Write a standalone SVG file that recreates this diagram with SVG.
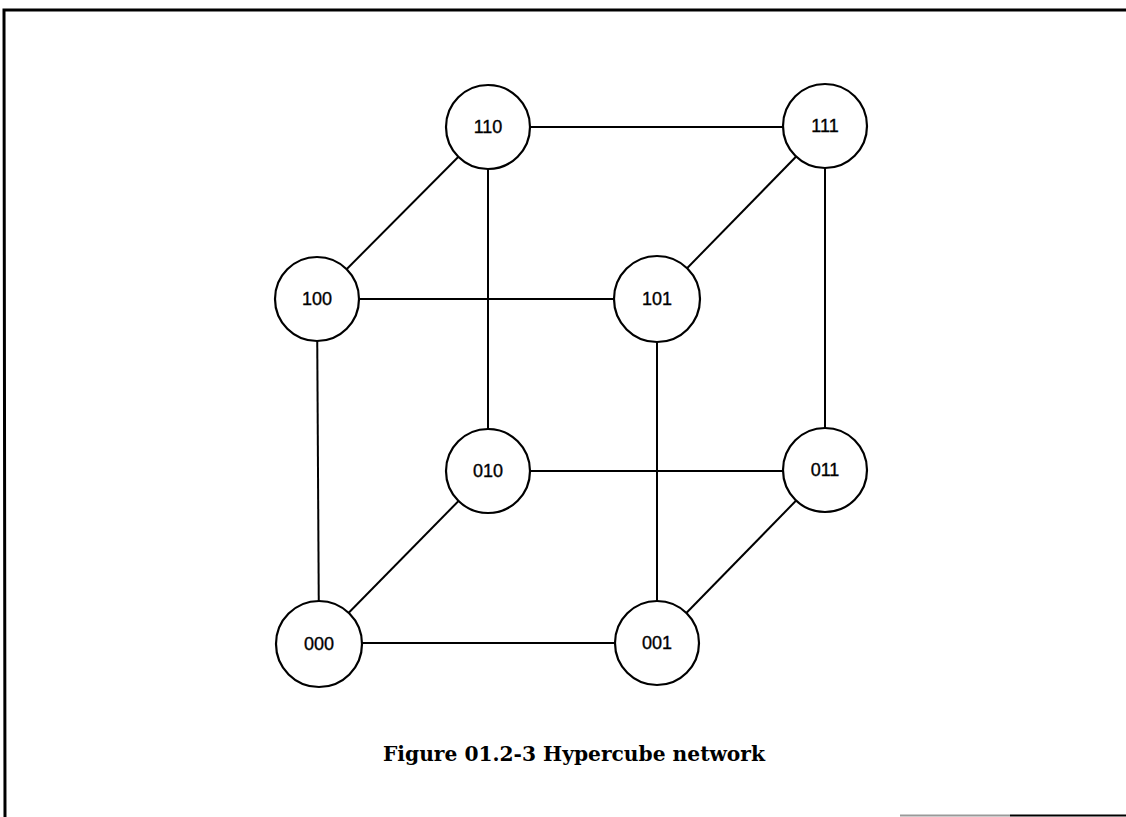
<svg xmlns="http://www.w3.org/2000/svg" width="1126" height="817" viewBox="0 0 1126 817">
  <style>
    .frame { fill: none; stroke: #000; stroke-width: 3; }
    .edge { stroke: #000; stroke-width: 2; fill: none; }
    .node circle { fill: #fff; stroke: #000; stroke-width: 2.2; }
    .node text { font-family: "Liberation Sans", Arial, sans-serif; font-size: 18px; text-anchor: middle; dominant-baseline: central; fill: #000; stroke: #000; stroke-width: 0.35; }
    .caption { font-family: "DejaVu Serif", "Liberation Serif", serif; font-weight: bold; font-size: 20px; text-anchor: middle; fill: #000; }
  </style>
  <rect width="1126" height="817" fill="#fff"/>

  <!-- page frame -->
  <g id="frame">
    <polyline class="frame" points="5,817 4,10 1126,10"/>
    <line x1="900" y1="815.5" x2="1010" y2="815.5" stroke="#999" stroke-width="2"/>
    <line x1="1010" y1="815.5" x2="1126" y2="815.5" stroke="#000" stroke-width="2"/>
  </g>

  <!-- cube edges -->
  <g id="connectors">
    <line class="edge" x1="488" y1="127" x2="825" y2="127"/>
    <line class="edge" x1="317" y1="299" x2="657" y2="299"/>
    <line class="edge" x1="488" y1="471" x2="825" y2="471"/>
    <line class="edge" x1="319" y1="643" x2="657" y2="643"/>
    <line class="edge" x1="317" y1="299" x2="319" y2="643"/>
    <line class="edge" x1="488" y1="127" x2="488" y2="471"/>
    <line class="edge" x1="657" y1="299" x2="657" y2="643"/>
    <line class="edge" x1="825" y1="127" x2="825" y2="471"/>
    <line class="edge" x1="317" y1="299" x2="488" y2="127"/>
    <line class="edge" x1="657" y1="299" x2="825" y2="127"/>
    <line class="edge" x1="319" y1="643" x2="488" y2="471"/>
    <line class="edge" x1="657" y1="643" x2="825" y2="471"/>
  </g>

  <g id="n110" class="node"><circle cx="488" cy="127" r="42"/><text x="488" y="127">110</text></g>
  <g id="n111" class="node"><circle cx="825" cy="126" r="42"/><text x="825" y="126">111</text></g>
  <g id="n100" class="node"><circle cx="317" cy="299" r="42"/><text x="317" y="299">100</text></g>
  <g id="n101" class="node"><circle cx="657" cy="299" r="43"/><text x="657" y="299">101</text></g>
  <g id="n010" class="node"><circle cx="488" cy="471" r="42"/><text x="488" y="471">010</text></g>
  <g id="n011" class="node"><circle cx="825" cy="470" r="42"/><text x="825" y="470">011</text></g>
  <g id="n000" class="node"><circle cx="319" cy="644" r="43"/><text x="319" y="644">000</text></g>
  <g id="n001" class="node"><circle cx="657" cy="643" r="42"/><text x="657" y="643">001</text></g>

  <text class="caption" x="574" y="761" textLength="382" lengthAdjust="spacingAndGlyphs">Figure 01.2-3 Hypercube network</text>
</svg>
